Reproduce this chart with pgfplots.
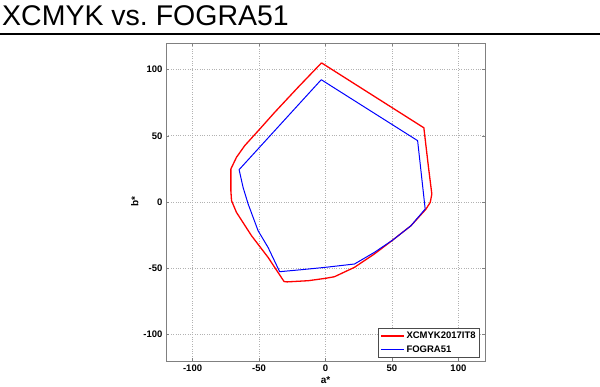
\documentclass[border=0pt]{standalone}
\usepackage{pgfplots}
\pgfplotsset{compat=1.18}
\usepackage{fontspec}
\setmainfont{Liberation Sans}
\frenchspacing
\begin{document}
\begin{tikzpicture}
\useasboundingbox (0pt,0pt) rectangle (600pt,-387pt);
\node[anchor=base west, inner sep=0pt, font=\fontsize{28.5}{30}\selectfont] at (2pt,-26pt) {XCMYK vs. FOGRA51};
\draw[line width=2pt] (0pt,-34pt) -- (600pt,-34pt);
\begin{axis}[
  at={(166pt,-361pt)}, anchor=south west,
  scale only axis, width=319pt, height=318pt,
  xmin=-120, xmax=120, ymin=-120, ymax=120,
  xtick={-100,-50,0,50,100}, ytick={-100,-50,0,50,100},
  tick align=inside,
  major tick length=3pt,
  axis line style={gray, line width=0.8pt},
  tick style={gray},
  grid=major,
  major grid style={dotted, gray!60, line width=0.6pt},
  /pgf/number format/assume math mode=true,
  ticklabel style={font=\fontsize{9.5}{10}\selectfont\bfseries},
  label style={font=\fontsize{10}{11}\selectfont\bfseries},
  xlabel={a*}, ylabel={b*},
  xlabel style={yshift=2pt},
  ylabel style={yshift=-2pt},
  legend style={at={(0.984,0.01)}, anchor=south east, draw=gray!60!black,
    font=\fontsize{9.5}{10}\selectfont\bfseries, row sep=1.5pt, inner sep=2pt},
  legend cell align=left,
  legend image code/.code={\draw[#1] (0pt,0pt) -- (23pt,0pt);},
]
\addplot[red, line width=1.3pt] coordinates {
(-3,105) (74,56) (77.5,26) (80,6) (78.8,-0.3) (75.5,-5.5) (64.3,-17.9) (50.6,-28.7) (36.8,-39.2) (21.8,-49.3) (6.75,-56.4) (0,-57.6) (-13,-59.4) (-29,-60.3) (-31.2,-60) (-43.2,-41.8) (-55.7,-25.4) (-67,-7.8) (-70.7,1) (-71.2,8.5) (-71.2,24.9) (-67,33.7) (-60.8,42.5) (-49.5,55) (-38.3,67.6) (-20.7,86.5) (-3,105)
};
\addlegendentry{XCMYK2017IT8}
\addplot[blue, line width=1pt] coordinates {
(-3.2,92.3) (69.3,46.3) (75,-5.3) (64.3,-17.9) (50.6,-28.7) (36.8,-38) (21.8,-46.8) (0,-49.3) (-18.2,-51.1) (-34.5,-52.6) (-43.2,-34.3) (-50.7,-21.7) (-58.2,-1.5) (-62,11) (-65,24.4) (-3.2,92.3)
};
\addlegendentry{FOGRA51}
\end{axis}
\end{tikzpicture}
\end{document}
